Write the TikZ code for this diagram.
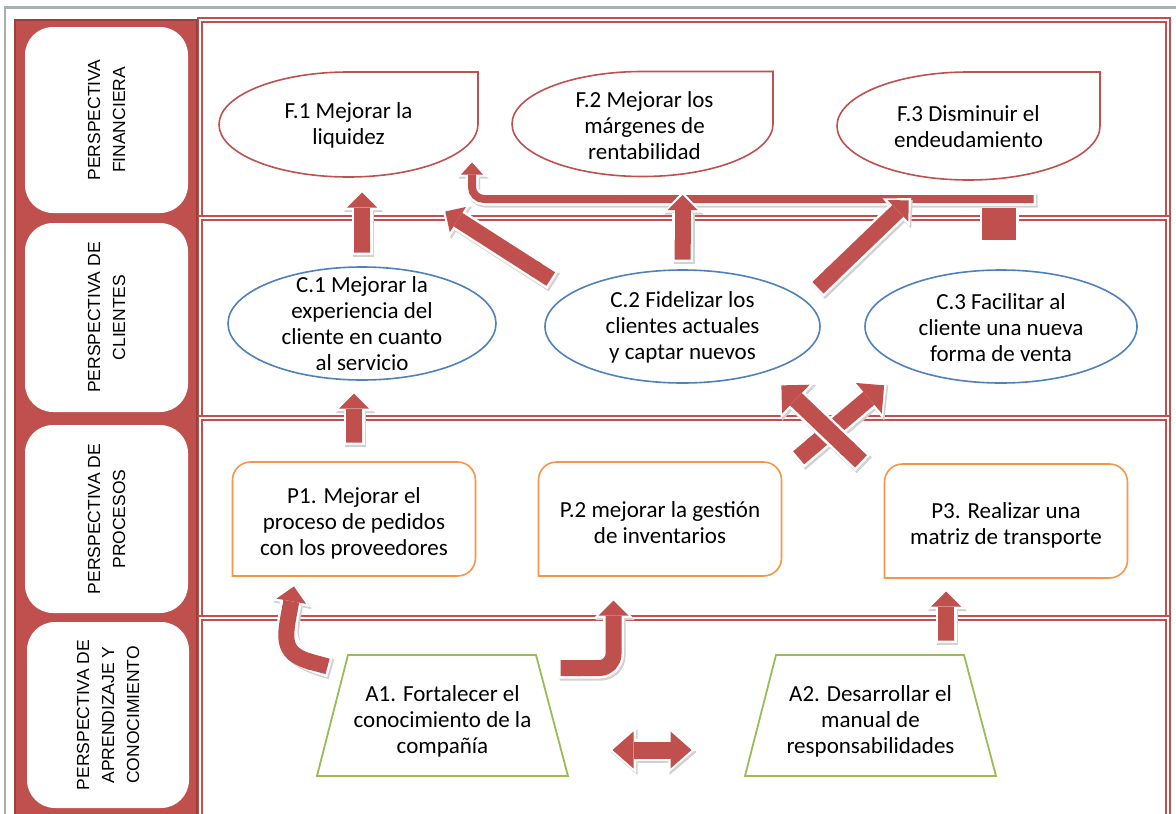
\documentclass[tikz,border=0pt]{standalone}
\usepackage{fontspec}
\setmainfont{Carlito}
\newfontfamily\sidefont{Liberation Sans}
\usetikzlibrary{arrows.meta,shapes.geometric,shadows}
\definecolor{bscred}{HTML}{C0504D}
\definecolor{bscblue}{HTML}{4F81BD}
\definecolor{bscorange}{HTML}{F79646}
\definecolor{bscgreen}{HTML}{9BBB59}
\definecolor{framegray}{HTML}{A9AFB3}
\tikzset{
  lane/.style={draw=bscred, line width=2pt, double=white, double distance=2pt},
  sidebox/.style={fill=white, rounded corners=28pt, rotate=90, align=center,
    inner sep=0pt, font=\sidefont\fontsize{17.5}{25}\selectfont},
  obj/.style={align=center, inner sep=0pt, outer sep=0pt,
    font=\fontsize{23}{26}\selectfont},
  finobj/.style={obj, ellipse, minimum height=105pt},
  cliobj/.style={obj, ellipse, draw=bscblue, line width=1.6pt, minimum height=113pt},
  procobj/.style={obj, minimum width=243pt, minimum height=114pt},
  learnobj/.style={obj, minimum width=251pt, minimum height=121pt},
  outline/.style={line width=1.6pt},
  stubbox/.style={fill=bscred, draw=white, line width=2.5pt, inner sep=0pt,
    minimum width=36.5pt, minimum height=34.5pt,
    drop shadow={opacity=0.2, shadow xshift=1.5pt, shadow yshift=-2pt}},
  blkarrow/.style={draw=bscred, line width=16pt,
    arrows={Butt Cap[sep=2.5pt]-Triangle[length=15pt,width=30pt,line width=0pt,sep=3.5pt]},
    preaction={draw=black!18, line width=21pt, transform canvas={shift={(1.5pt,-2pt)}},
      arrows={-Triangle[length=21pt,width=39pt,line width=0pt]}},
    preaction={draw=white, line width=21pt,
      arrows={-Triangle[length=21pt,width=39pt,line width=0pt]}}},
  crossarrow/.style={draw=bscred, line width=17pt,
    arrows={Butt Cap[sep=2.5pt]-Triangle[length=20pt,width=40pt,line width=0pt,sep=3.5pt]},
    preaction={draw=black!18, line width=22pt, transform canvas={shift={(1.5pt,-2pt)}},
      arrows={-Triangle[length=26pt,width=49pt,line width=0pt]}},
    preaction={draw=white, line width=22pt,
      arrows={-Triangle[length=26pt,width=49pt,line width=0pt]}}},
  bararrow/.style={draw=bscred, line width=8pt,
    arrows={Butt Cap[sep=2.5pt]-Triangle[length=12pt,width=22pt,line width=0pt,sep=3pt]},
    preaction={draw=black!18, line width=13pt, transform canvas={shift={(1.5pt,-2pt)}},
      arrows={-Triangle[length=17pt,width=30pt,line width=0pt]}},
    preaction={draw=white, line width=13pt,
      arrows={-Triangle[length=17pt,width=30pt,line width=0pt]}}},
  dblarrow/.style={draw=bscred, line width=17pt,
    arrows={Triangle[length=21pt,width=37pt,line width=0pt,sep=3.5pt]-Triangle[length=21pt,width=37pt,line width=0pt,sep=3.5pt]},
    preaction={draw=black!18, line width=22pt, transform canvas={shift={(1.5pt,-2pt)}},
      arrows={Triangle[length=27pt,width=46pt,line width=0pt]-Triangle[length=27pt,width=46pt,line width=0pt]}},
    preaction={draw=white, line width=22pt,
      arrows={Triangle[length=27pt,width=46pt,line width=0pt]-Triangle[length=27pt,width=46pt,line width=0pt]}}},
}
\newcommand{\finshape}[3]{\draw[draw=bscred, outline] (#1.north) -| (#1.east)
  arc[start angle=0, end angle=-270, x radius=#2, y radius=#3];}
\newcommand{\procshape}[1]{\draw[draw=bscorange, outline] (#1.south west)
  [rounded corners=18pt] -- (#1.north west) -- (#1.north east) -- (#1.south east)
  [sharp corners] -- cycle;}
\newcommand{\learnshape}[1]{\draw[draw=bscgreen, line width=1.8pt] (#1.south west)
  -- ([xshift=31pt]#1.north west) -- ([xshift=-32pt]#1.north east) -- (#1.south east) -- cycle;}

\begin{document}
\begin{tikzpicture}[x=1pt, y=-1pt]
  \useasboundingbox (0,0) rectangle (1176,814);
  \fill[white] (0,0) rectangle (1176,814);
  \draw[framegray, line width=2.5pt] (1180,7.5) -- (5,7.5) -- (5,820);

  \draw[lane] (200,20) rectangle (1168,218);
  \draw[lane] (200,218) rectangle (1168,418);
  \draw[lane] (200,418) rectangle (1168,618);
  \draw[lane] (200,618) rectangle (1168,830);
  \draw[fill=bscred, draw=bscred!80!black, line width=1.5pt] (15,20) rectangle (197,830);

  \node[sidebox, minimum width=186pt, minimum height=163pt] (sfin) at (106.5,120) {PERSPECTIVA\\FINANCIERA};
  \node[sidebox, minimum width=189pt, minimum height=163pt] (scli) at (106.5,317.5) {PERSPECTIVA DE\\CLIENTES};
  \node[sidebox, minimum width=188pt, minimum height=163pt] (spro) at (106.5,519) {PERSPECTIVA DE\\PROCESOS};
  \node[sidebox, minimum width=186pt, minimum height=162pt] (sapr) at (108,715) {PERSPECTIVA DE\\APRENDIZAJE Y\\CONOCIMIENTO};

  % financiera
  \node[finobj, minimum width=259pt] (f1) at (348.5,124.5) {};
  \node[finobj, minimum width=261pt] (f2) at (642.5,124) {};
  \node[finobj, minimum width=263pt, minimum height=108pt] (f3) at (968.5,126) {};
  \finshape{f1}{129.5pt}{52.5pt}
  \finshape{f2}{130.5pt}{52.5pt}
  \finshape{f3}{131.5pt}{54pt}
  \node[obj] (f1t) at ([yshift=-1pt]f1) {F.1 Mejorar la\\liquidez};
  \node[obj] (f2t) at ([xshift=2pt,yshift=-2pt]f2) {F.2 Mejorar los\\márgenes de\\rentabilidad};
  \node[obj] (f3t) at ([yshift=-1pt]f3) {F.3 Disminuir el\\endeudamiento};

  % clientes
  \node[cliobj, minimum width=268pt] (c1) at (362,323.5) {};
  \node[cliobj, minimum width=275pt] (c2) at (682.5,326.5) {};
  \node[cliobj, minimum width=272pt] (c3) at (1001,326.5) {};
  \node[obj] (c1t) at (c1) {C.1 Mejorar la\\experiencia del\\cliente en cuanto\\al servicio};
  \node[obj] (c2t) at ([yshift=-1pt]c2) {C.2 Fidelizar los\\clientes actuales\\y captar nuevos};
  \node[obj] (c3t) at ([yshift=-1pt]c3) {C.3 Facilitar al\\cliente una nueva\\forma de venta};

  % procesos
  \node[procobj] (p1) at (354,519) {};
  \node[procobj] (p2) at (660,519) {};
  \node[procobj] (p3) at (1006,521) {};
  \procshape{p1}
  \procshape{p2}
  \procshape{p3}
  \node[obj] (p1t) at ([yshift=-4pt]p1) {P1. Mejorar el\\proceso de pedidos\\con los proveedores};
  \node[obj] (p2t) at ([yshift=-4pt]p2) {P.2 mejorar la gestión\\de inventarios};
  \node[obj] (p3t) at ([yshift=-4pt]p3) {P3. Realizar una\\matriz de transporte};

  % aprendizaje
  \node[learnobj] (a1) at (442.5,715.5) {};
  \node[learnobj] (a2) at (870.5,715.5) {};
  \learnshape{a1}
  \learnshape{a2}
  \node[obj] (a1t) at ([yshift=-6pt]a1) {A1. Fortalecer el\\conocimiento de la\\compañía};
  \node[obj] (a2t) at ([yshift=-6pt]a2) {A2. Desarrollar el\\manual de\\responsabilidades};

  \coordinate (barend) at (1036,199);
  \coordinate (a1left) at ([xshift=13pt,yshift=-12pt]a1.north west);
  \coordinate (a1right) at ([xshift=-10pt,yshift=-13pt]a1.north east);
  \coordinate (a2up) at ([xshift=-50pt]a2.north east);

  \node[stubbox] (stub) at (999,224) {};
  \draw[bararrow, rounded corners=12pt, shorten >=35pt] (barend) -| ([xshift=-6pt]f1.east);
  \draw[blkarrow, shorten <=12pt, shorten >=12pt] (c1.north) -- (c1.north |- f1.south);
  \draw[blkarrow, shorten <=23pt, shorten >=65pt] (c2.163) -- (f1.-52);
  \draw[blkarrow, shorten <=8pt, shorten >=15pt] (c2.north) -- (c2.north |- f2.south);
  \draw[blkarrow, shorten <=16pt, shorten >=29pt] (c2.12) -- (f3.235);

  \draw[blkarrow, shorten <=17pt, shorten >=10pt] (p1.north) -- (p1.north |- c1.south);
  \draw[crossarrow, shorten <=20pt, shorten >=25pt] (p2.21) -- (c3.203);
  \draw[crossarrow, shorten <=30pt, shorten >=17pt] (p3.163) -- (c2.-28);

  \draw[blkarrow, looseness=1.5] (a1left) to[out=165, in=-100] ([xshift=62pt,yshift=-7pt]p1.south west);
  \draw[blkarrow, rounded corners=14pt] (a1right) -| ([xshift=75pt,yshift=-21pt]p2.south west);
  \draw[blkarrow, shorten <=12pt, shorten >=10pt] (a2up) -- (a2up |- p3.south);
  \draw[dblarrow, shorten <=41pt, shorten >=50pt] ([yshift=26pt]a1.south east) -- ([yshift=26pt]a2.south west);
\end{tikzpicture}
\end{document}
